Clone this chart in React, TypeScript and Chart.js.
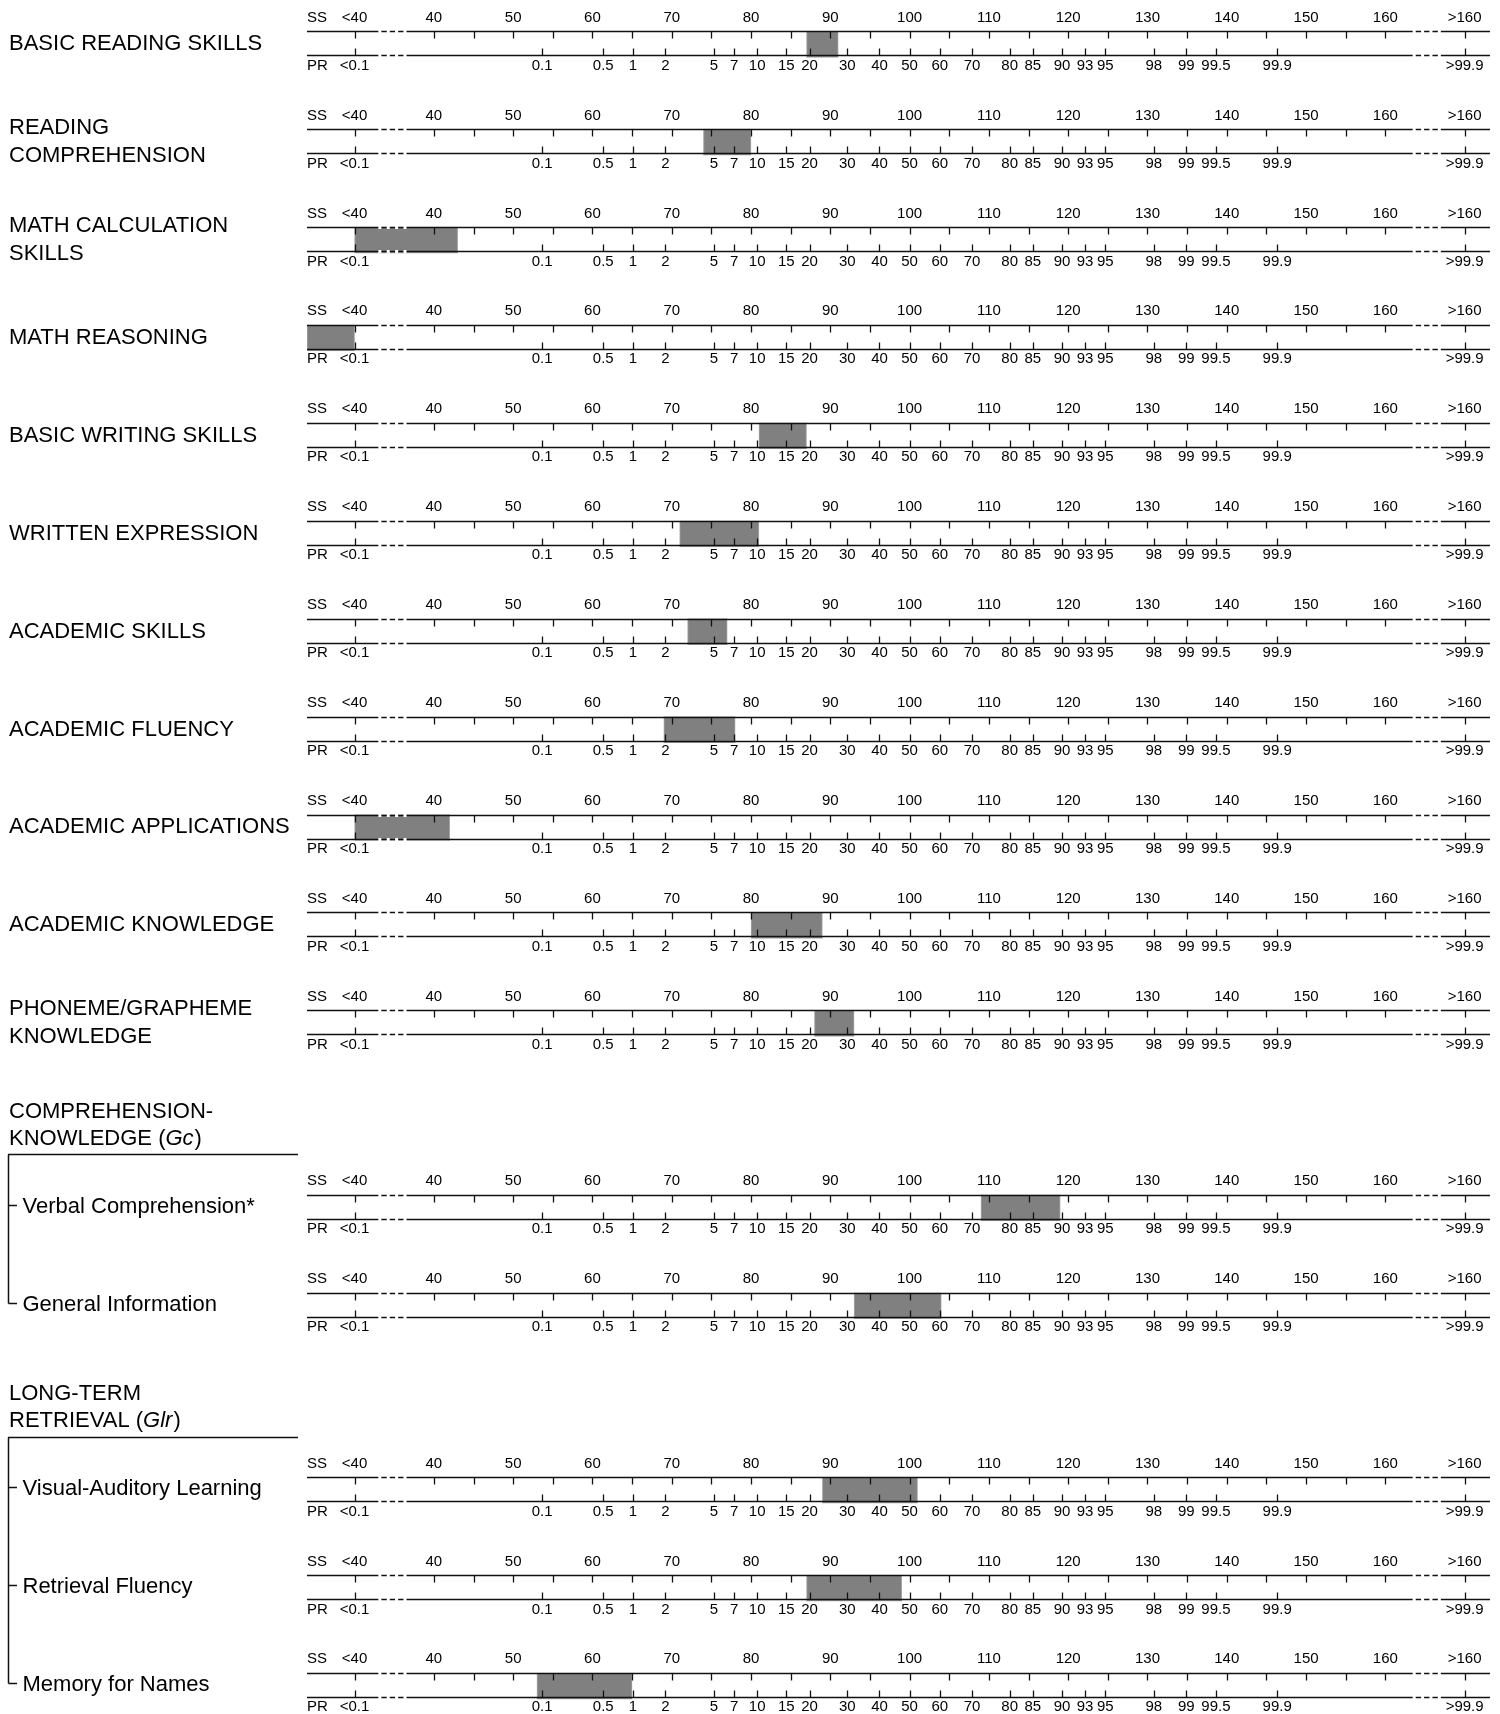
import React, { useEffect, useRef } from 'react';
import { Chart, registerables } from 'chart.js';

Chart.register(...registerables);

// ---------- data ----------
const ROW_LABELS: string[] = [
  'BASIC READING SKILLS',
  'READING\nCOMPREHENSION',
  'MATH CALCULATION\nSKILLS',
  'MATH REASONING',
  'BASIC WRITING SKILLS',
  'WRITTEN EXPRESSION',
  'ACADEMIC SKILLS',
  'ACADEMIC FLUENCY',
  'ACADEMIC APPLICATIONS',
  'ACADEMIC KNOWLEDGE',
  'PHONEME/GRAPHEME\nKNOWLEDGE',
  'Verbal Comprehension*',
  'General Information',
  'Visual-Auditory Learning',
  'Retrieval Fluency',
  'Memory for Names',
];

// group index of each row (-1 = top level)
const ROW_GROUP: number[] = [-1, -1, -1, -1, -1, -1, -1, -1, -1, -1, -1, 0, 0, 1, 1, 1];

const GROUP_LINE1: string[] = ['COMPREHENSION-', 'LONG-TERM'];
const GROUP_LINE2_PRE: string[] = ['KNOWLEDGE (', 'RETRIEVAL ('];
const GROUP_LINE2_ITALIC: string[] = ['Gc', 'Glr'];
const GROUP_LINE2_POST: string[] = [')', ')'];

// standard score band (low, high)
const BAND_LOW: number[] = [87, 74, 30, 24, 81, 71, 72, 69, 30, 80, 88, 109, 93, 89, 87, 53];
const BAND_HIGH: number[] = [91, 80, 43, 30, 87, 81, 77, 78, 42, 89, 93, 119, 104, 101, 99, 65];

// SS axis
const SS_TICK_VALUES: number[] = [30, 40, 45, 50, 55, 60, 65, 70, 75, 80, 85, 90, 95, 100, 105, 110, 115, 120, 125, 130, 135, 140, 145, 150, 155, 160, 170];
const SS_LABEL_VALUES: number[] = [30, 40, 50, 60, 70, 80, 90, 100, 110, 120, 130, 140, 150, 160, 170];
const SS_LABELS: string[] = ['<40', '40', '50', '60', '70', '80', '90', '100', '110', '120', '130', '140', '150', '160', '>160'];

// PR axis
const PR_LABELS: string[] = ['<0.1', '0.1', '0.5', '1', '2', '5', '7', '10', '15', '20', '30', '40', '50', '60', '70', '80', '85', '90', '93', '95', '98', '99', '99.5', '99.9', '>99.9'];
const PR_EDGE_SS: Record<string, number> = { '<0.1': 30, '>99.9': 170 };

// axis breaks (dashed parts), in SS units
const AXIS_BREAKS: [number, number][] = [[33.0, 36.55], [163.45, 167.0]];

const SS_MIN = 24;
const SS_MAX = 173.2;
const SS_MEAN = 100;
const SS_SD = 15;

// ---------- layout constants ----------
const W = 1500;
const H = 1714;
const ROW_PX = 97.9;
const FIRST_ROW_Y = 44.3;
const GROUP_GAP = 0.885;
const TICK_FONT = '15px "Liberation Sans", Arial, Helvetica, sans-serif';
const LABEL_FONT = '22px "Liberation Sans", Arial, Helvetica, sans-serif';
const LABEL_FONT_IT = 'italic 22px "Liberation Sans", Arial, Helvetica, sans-serif';

function probit(p: number): number {
  const a = [-3.969683028665376e1, 2.209460984245205e2, -2.759285104469687e2, 1.38357751867269e2, -3.066479806614716e1, 2.506628277459239];
  const b = [-5.447609879822406e1, 1.615858368580409e2, -1.556989798598866e2, 6.680131188771972e1, -1.328068155288572e1];
  const c = [-7.784894002430293e-3, -3.223964580411365e-1, -2.400758277161838, -2.549732539343734, 4.374664141464968, 2.938163982698783];
  const d = [7.784695709041462e-3, 3.224671290700398e-1, 2.445134137142996, 3.754408661907416];
  const pl = 0.02425;
  const ph = 1 - pl;
  if (p < pl) {
    const q = Math.sqrt(-2 * Math.log(p));
    return (((((c[0] * q + c[1]) * q + c[2]) * q + c[3]) * q + c[4]) * q + c[5]) / ((((d[0] * q + d[1]) * q + d[2]) * q + d[3]) * q + 1);
  }
  if (p <= ph) {
    const q = p - 0.5;
    const r = q * q;
    return ((((((a[0] * r + a[1]) * r + a[2]) * r + a[3]) * r + a[4]) * r + a[5]) * q) / (((((b[0] * r + b[1]) * r + b[2]) * r + b[3]) * r + b[4]) * r + 1);
  }
  const q = Math.sqrt(-2 * Math.log(1 - p));
  return -(((((c[0] * q + c[1]) * q + c[2]) * q + c[3]) * q + c[4]) * q + c[5]) / ((((d[0] * q + d[1]) * q + d[2]) * q + d[3]) * q + 1);
}

function prToSS(label: string): number {
  if (label in PR_EDGE_SS) return PR_EDGE_SS[label];
  return SS_MEAN + SS_SD * probit(parseFloat(label) / 100);
}

function rowPositions(): number[] {
  const out: number[] = [];
  let gaps = 0;
  let prev = -1;
  ROW_GROUP.forEach((g, i) => {
    if (g !== -1 && g !== prev) gaps += 1;
    prev = g;
    out.push(i + gaps * GROUP_GAP);
  });
  return out;
}

const ROW_POS = rowPositions();

const overlayPlugin = {
  id: 'wjOverlay',
  afterDatasetsDraw(chart: any) {
    const ctx: CanvasRenderingContext2D = chart.ctx;
    const xs = chart.scales.x;
    const ys = chart.scales.y;
    const L = chart.chartArea.left;
    const R = chart.chartArea.right;
    const ink = '#111';
    ctx.save();

    const prVals = PR_LABELS.map(prToSS);

    ROW_LABELS.forEach((label, i) => {
      const c = ys.getPixelForValue(ROW_POS[i]);
      const top = Math.round(c - 13) + 0.5;
      const bot = Math.round(c + 11) + 0.5;

      // axis lines
      ctx.strokeStyle = ink;
      ctx.lineWidth = 1.3;
      ctx.beginPath();
      ctx.moveTo(L, top);
      ctx.lineTo(R, top);
      ctx.moveTo(L, bot);
      ctx.lineTo(R, bot);
      ctx.stroke();

      // breaks: white gaps
      ctx.strokeStyle = '#ffffff';
      ctx.lineWidth = 3;
      AXIS_BREAKS.forEach(([a, b]) => {
        const xa = xs.getPixelForValue(a);
        const xb = xs.getPixelForValue(b);
        const n = 4;
        const gw = 3;
        const step = (xb - xa - gw) / (n - 1);
        ctx.beginPath();
        for (let k = 0; k < n; k++) {
          const x0 = xa + k * step;
          ctx.moveTo(x0, top);
          ctx.lineTo(x0 + gw, top);
          ctx.moveTo(x0, bot);
          ctx.lineTo(x0 + gw, bot);
        }
        ctx.stroke();
      });

      // ticks
      ctx.strokeStyle = ink;
      ctx.lineWidth = 1.3;
      ctx.beginPath();
      SS_TICK_VALUES.forEach((v) => {
        const x = Math.round(xs.getPixelForValue(v)) + 0.5;
        ctx.moveTo(x, top);
        ctx.lineTo(x, top + 7);
      });
      prVals.forEach((v) => {
        const x = Math.round(xs.getPixelForValue(v)) + 0.5;
        ctx.moveTo(x, bot - 7);
        ctx.lineTo(x, bot);
      });
      ctx.stroke();

      // tick labels
      ctx.fillStyle = '#000';
      ctx.font = TICK_FONT;
      ctx.textBaseline = 'alphabetic';
      ctx.textAlign = 'left';
      ctx.fillText('SS', L, c - 22.6);
      ctx.fillText('PR', L, c + 25.4);
      ctx.textAlign = 'center';
      SS_LABEL_VALUES.forEach((v, k) => {
        ctx.fillText(SS_LABELS[k], xs.getPixelForValue(v), c - 22.6);
      });
      prVals.forEach((v, k) => {
        ctx.fillText(PR_LABELS[k], xs.getPixelForValue(v), c + 25.4);
      });

      // row label
      ctx.font = LABEL_FONT;
      ctx.textAlign = 'left';
      const lines = label.split('\n');
      const lx = ROW_GROUP[i] === -1 ? 9 : 22.5;
      if (lines.length === 1) {
        const cy = ROW_GROUP[i] === -1 ? c - 2 : c - 3;
        ctx.fillText(lines[0], lx, cy + 7.9);
      } else {
        ctx.fillText(lines[0], lx, c - 16 + 7.9);
        ctx.fillText(lines[1], lx, c + 11.5 + 7.9);
      }
    });

    // group headers and brackets
    GROUP_LINE1.forEach((line1, g) => {
      const idx = ROW_GROUP.map((v, i) => (v === g ? i : -1)).filter((i) => i >= 0);
      const cFirst = ys.getPixelForValue(ROW_POS[idx[0]]);
      const cLast = ys.getPixelForValue(ROW_POS[idx[idx.length - 1]]);
      ctx.fillStyle = '#000';
      ctx.font = LABEL_FONT;
      ctx.textAlign = 'left';
      ctx.fillText(line1, 9, cFirst - 98 + 7.9);
      let x = 9;
      const y2 = cFirst - 71 + 7.9;
      ctx.fillText(GROUP_LINE2_PRE[g], x, y2);
      x += ctx.measureText(GROUP_LINE2_PRE[g]).width;
      ctx.font = LABEL_FONT_IT;
      ctx.fillText(GROUP_LINE2_ITALIC[g], x, y2);
      x += ctx.measureText(GROUP_LINE2_ITALIC[g]).width + 1;
      ctx.font = LABEL_FONT;
      ctx.fillText(GROUP_LINE2_POST[g], x, y2);

      const hy = Math.round(cFirst - 53.5) + 0.5;
      ctx.strokeStyle = ink;
      ctx.lineWidth = 1.5;
      ctx.beginPath();
      ctx.moveTo(8, hy);
      ctx.lineTo(298, hy);
      ctx.moveTo(8.5, hy);
      ctx.lineTo(8.5, Math.round(cLast - 3) + 0.5);
      idx.forEach((i) => {
        const cy = Math.round(ys.getPixelForValue(ROW_POS[i]) - 3) + 0.5;
        ctx.moveTo(8.5, cy);
        ctx.lineTo(17, cy);
      });
      ctx.stroke();
    });

    ctx.restore();
  },
};

export default function App() {
  const ref = useRef<HTMLCanvasElement | null>(null);

  useEffect(() => {
    document.body.style.margin = '0';
    const canvas = ref.current;
    if (!canvas) return;
    const yMin = -FIRST_ROW_Y / ROW_PX;
    const yMax = yMin + H / ROW_PX;
    const chart = new Chart(canvas, {
      type: 'bar',
      data: {
        datasets: [
          {
            data: ROW_LABELS.map((_, i) => ({ x: [BAND_LOW[i], BAND_HIGH[i]], y: ROW_POS[i] })) as any,
            backgroundColor: 'rgb(128,128,128)',
            borderColor: 'rgb(165,165,165)',
            borderWidth: 1,
            borderSkipped: false,
            barThickness: 26,
          },
        ],
      },
      options: {
        indexAxis: 'y',
        responsive: false,
        animation: false,
        layout: { padding: { left: 307, right: 10, top: 0, bottom: 0 } },
        scales: {
          x: { type: 'linear', min: SS_MIN, max: SS_MAX, display: false, offset: false },
          y: { type: 'linear', min: yMin, max: yMax, reverse: true, display: false, offset: false },
        },
        plugins: {
          legend: { display: false },
          tooltip: { enabled: false },
        },
      },
      plugins: [overlayPlugin],
    });
    return () => chart.destroy();
  }, []);

  return <canvas ref={ref} width={W} height={H} style={{ display: 'block' }} />;
}
